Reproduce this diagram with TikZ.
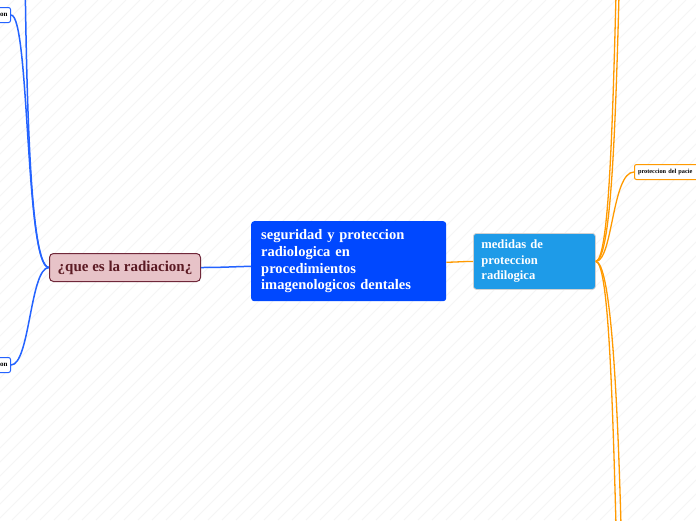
\documentclass[tikz,border=0pt]{standalone}
\usepackage{fontspec}
\setmainfont{Liberation Serif}
\definecolor{cblue}{HTML}{0048FF}
\definecolor{lineblue}{HTML}{2463FF}
\definecolor{cright}{HTML}{1E9BE8}
\definecolor{corange}{HTML}{FF9A00}
\definecolor{pinkfill}{HTML}{E7C3C8}
\definecolor{pinkdraw}{HTML}{70283A}
\definecolor{pinktext}{HTML}{5C1B24}
\tikzset{
  hatch/.style={black!4, line width=0.8pt},
  mainbox/.style={fill=cblue, draw=none, rounded corners=3pt, text=white,
    font=\fontsize{14.5}{16.8}\selectfont\bfseries, align=left,
    text width=175pt, inner xsep=10pt, inner ysep=0pt,
    minimum width=195pt, minimum height=80pt, anchor=north west},
  pinkbox/.style={fill=pinkfill, draw=pinkdraw, line width=1pt, rounded corners=4pt,
    text=pinktext, font=\fontsize{15}{16}\selectfont\bfseries,
    minimum width=151pt, minimum height=28pt, inner sep=0pt, anchor=north west},
  rightbox/.style={fill=cright, draw=black!18, line width=0.8pt, rounded corners=3pt, text=white,
    font=\fontsize{12.6}{15.5}\selectfont\bfseries, align=left,
    text width=106pt, inner xsep=8pt, inner ysep=0pt,
    minimum width=122pt, minimum height=56pt, anchor=north west},
  smallblue/.style={fill=white, draw=lineblue, line width=1pt, rounded corners=2pt,
    font=\fontsize{7}{7}\selectfont\bfseries, align=right, text width=50pt,
    inner xsep=3pt, inner ysep=0pt, minimum height=15pt, anchor=east},
  smallorange/.style={fill=white, draw=corange, line width=1pt, rounded corners=2pt,
    font=\fontsize{6.3}{7}\selectfont\bfseries, align=left, text width=80pt,
    inner xsep=3.5pt, inner ysep=0pt, minimum height=15pt, anchor=west},
  blueline/.style={draw=lineblue, line width=1.5pt},
  orangeline/.style={draw=corange, line width=1.3pt},
}
\begin{document}
\begin{tikzpicture}[x=1pt,y=-1pt]
\useasboundingbox (0,0) rectangle (696,520);
\begin{scope}
\clip (0,0) rectangle (696,520);
\fill[white] (0,0) rectangle (696,520);
\foreach \i in {-520,-506,...,700} \draw[hatch] (\i,520) -- (\i+520,0);

% free ends
\coordinate (ta) at (24,-300);
\coordinate (u1) at (616,-5);
\coordinate (u2) at (619,-5);
\coordinate (d1) at (616,525);
\coordinate (d2) at (621,525);

% nodes
\node[mainbox] (c) at (251,221) {seguridad y proteccion\\radiologica en\\procedimientos\\imagenologicos dentales};
\node[pinkbox] (l) at (49,253) {¿que es la radiacion¿};
\node[rightbox] (r) at (473,233) {medidas de\\proteccion\\radilogica};
\node[smallblue] (tl) at (11,15) {on};
\node[smallblue] (bl) at (11,365) {on};
\node[smallorange] (pr) at (634,172) {proteccion del pacie};

% connectors
\draw[blueline] (l.east) .. controls +(20,0) and +(-20,0.5) .. ([yshift=1.2pt]l.east -| c.west);
\draw[orangeline] ([yshift=-0.8pt]c.east |- r.west) .. controls +(10,0) and +(-10,0) .. (r.west);
\draw[blueline] (l.west) .. controls +(-24,0) and +(19,0) .. (tl.east);
\draw[blueline] (l.west) .. controls +(-24,0) and +(0,300) .. (ta);
\draw[blueline] (l.west) .. controls +(-19,0) and +(19,0) .. (bl.east);
\draw[orangeline] (r.east) .. controls +(17,0) and +(-22,0) .. (pr.west);
\draw[orangeline] (r.east) .. controls (608,259) and (612,150) .. (u1);
\draw[orangeline] (r.east) .. controls (610,259) and (615,150) .. (u2);
\draw[orangeline] (r.east) .. controls (608,263) and (612,380) .. (d1);
\draw[orangeline] (r.east) .. controls (610,263) and (617,380) .. (d2);
\end{scope}
\end{tikzpicture}
\end{document}
